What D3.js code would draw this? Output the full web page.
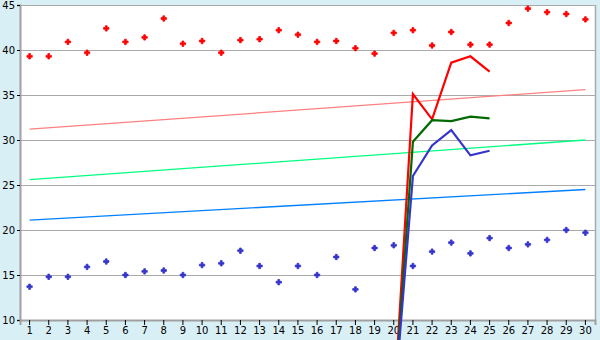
<!DOCTYPE html>
<html lang="en">
<head>
<meta charset="UTF-8">
<title>Chart</title>
<style>
  body { margin: 0; background: #d9eff6; }
  svg { display: block; font-family: Verdana, "DejaVu Sans", sans-serif; }
</style>
</head>
<body>
<div id="chart"></div>
<script src="https://d3js.org/d3.v7.min.js"></script>
<script>
// categories along the x axis
const categories = [1, 2, 3, 4, 5, 6, 7, 8, 9, 10, 11, 12, 13, 14, 15,
                    16, 17, 18, 19, 20, 21, 22, 23, 24, 25, 26, 27, 28, 29, 30];
const yTicks = [10, 15, 20, 25, 30, 35, 40, 45];

// scatter series
const redPoints = [39.3, 39.3, 40.9, 39.7, 42.4, 40.9, 41.4, 43.5, 40.7, 41.0,
                   39.7, 41.1, 41.2, 42.2, 41.7, 40.9, 41.0, 40.2, 39.6, 41.9,
                   42.2, 40.5, 42.0, 40.6, 40.6, 43.0, 44.6, 44.2, 44.0, 43.4];
const bluePoints = [13.7, 14.8, 14.8, 15.9, 16.5, 15.0, 15.4, 15.5, 15.0, 16.1,
                    16.3, 17.7, 16.0, 14.2, 16.0, 15.0, 17.0, 13.4, 18.0, 18.3,
                    16.0, 17.6, 18.6, 17.4, 19.1, 18.0, 18.4, 18.9, 20.0, 19.7];

// line series (only categories 20..25)
const lineCats = [20, 21, 22, 23, 24, 25];
const redLine = [0, 35.1, 32.3, 38.6, 39.3, 37.6];
const greenLine = [0, 29.8, 32.2, 32.1, 32.6, 32.4];
const blueLine = [0, 26.0, 29.4, 31.1, 28.3, 28.8];

// trend lines
const trendCats = [1, 30];
const pinkTrend = [31.2, 35.6];
const greenTrend = [25.6, 30.0];
const blueTrend = [21.1, 24.5];

const W = 600, H = 340;
const margin = {left: 20, right: 595, top: 5, bottom: 320};

const svg = d3.select("#chart").append("svg")
    .attr("width", W)
    .attr("height", H);

const x = d3.scaleBand().domain(categories).range([margin.left, margin.right]).padding(0);
const cx = d => x(d) + x.bandwidth() / 2;
const y = d3.scaleLinear().domain([10, 45]).range([margin.bottom, margin.top]);

// plot area
svg.append("rect")
    .attr("x", margin.left).attr("y", margin.top)
    .attr("width", margin.right - margin.left).attr("height", margin.bottom - margin.top)
    .attr("fill", "#ffffff");

// gridlines
svg.append("g")
  .selectAll("line")
  .data(yTicks)
  .join("line")
    .attr("x1", margin.left).attr("x2", margin.right)
    .attr("y1", d => Math.round(y(d)) + 0.5)
    .attr("y2", d => Math.round(y(d)) + 0.5)
    .attr("stroke", "#aaaaaa");

// right border
svg.append("line")
    .attr("x1", margin.right + 0.5).attr("x2", margin.right + 0.5)
    .attr("y1", margin.top).attr("y2", margin.bottom)
    .attr("stroke", "#aaaaaa").attr("stroke-width", 1.5);

// axes
const yAxis = svg.append("g")
    .attr("transform", `translate(${margin.left},0)`)
    .call(d3.axisLeft(y).tickValues(yTicks).tickSize(3).tickPadding(2));
const xAxis = svg.append("g")
    .attr("transform", `translate(0,${margin.bottom})`)
    .call(d3.axisBottom(x).tickSize(5).tickPadding(2));

[yAxis, xAxis].forEach(g => {
    g.select(".domain").attr("stroke", "#a0a0a0").attr("stroke-width", 2);
    g.selectAll(".tick line").attr("stroke", "#000");
    g.selectAll("text")
        .attr("fill", "#000")
        .style("font-size", "10px")
        .style("font-family", "Verdana, 'DejaVu Sans', sans-serif");
});

// trend lines
const trend = d3.line().x((d, i) => cx(trendCats[i])).y(d => y(d));
[[pinkTrend, "#ff8080"], [greenTrend, "#00ff80"], [blueTrend, "#0080ff"]].forEach(([vals, col]) => {
    svg.append("path")
        .datum(vals)
        .attr("d", trend)
        .attr("fill", "none")
        .attr("stroke", col)
        .attr("stroke-width", 1.3);
});

// scatter markers (small chunky plus)
const cross = d3.symbol().type(d3.symbolCross).size(16);
[[redPoints, "#ff0000"], [bluePoints, "#3535cc"]].forEach(([vals, col]) => {
    svg.append("g")
      .selectAll("path")
      .data(vals)
      .join("path")
        .attr("transform", (d, i) => `translate(${cx(categories[i])},${y(d)})`)
        .attr("d", cross)
        .attr("fill", col)
        .attr("stroke", col)
        .attr("stroke-width", 0.8)
        .attr("stroke-linejoin", "round");
});

// line series
const line = d3.line().x((d, i) => cx(lineCats[i])).y(d => y(d));
[[redLine, "#ff0000"], [greenLine, "#006a00"], [blueLine, "#3535cc"]].forEach(([vals, col]) => {
    svg.append("path")
        .datum(vals)
        .attr("d", line)
        .attr("fill", "none")
        .attr("stroke", col)
        .attr("stroke-width", 2.2);
});
</script>
</body>
</html>
